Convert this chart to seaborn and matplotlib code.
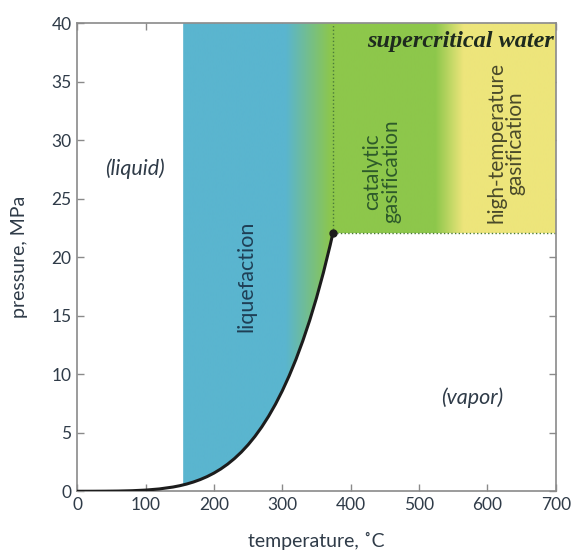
import numpy as np
import matplotlib
matplotlib.use("Agg")
import matplotlib.pyplot as plt
import seaborn as sns
from matplotlib.colors import to_rgb

# saturation curve of water (temperature in C, pressure in MPa)
temps = [0, 20, 40, 60, 80, 100, 120, 140, 150, 160, 170, 180, 190, 200, 210,
         220, 230, 240, 250, 260, 270, 280, 290, 300, 310, 320, 330, 340, 350,
         360, 370, 374]
pressures = [0.0006, 0.0023, 0.0074, 0.0199, 0.0474, 0.101, 0.199, 0.362, 0.476,
             0.618, 0.792, 1.003, 1.255, 1.555, 1.907, 2.319, 2.797, 3.347, 3.976,
             4.692, 5.503, 6.417, 7.442, 8.588, 9.865, 11.28, 12.86, 14.60, 16.53,
             18.67, 21.04, 22.06]

crit_t, crit_p = 374, 22.06
liq_start = 155

# colour stops of the shaded band (temperature, colour)
stop_temps = [155, 305, 372, 524, 565, 700]
stop_colors = ["#5ab5cf", "#5ab5cf", "#8dc74b", "#8dc74b", "#ede57b", "#ede57b"]

text_col = "#2f3b48"


def main():
    sns.set_style("ticks")
    plt.rcParams["font.family"] = ["Lato", "DejaVu Sans"]

    fig = plt.figure(figsize=(5.76, 5.52), dpi=100)
    ax = fig.add_axes([0.134, 0.110, 0.831, 0.848])

    # shaded region: above the curve up to 40 MPa, from 155 C on
    t_curve = np.linspace(liq_start, crit_t, 200)
    p_curve = np.interp(t_curve, temps, pressures)
    poly_t = np.concatenate([t_curve, [700, 700, liq_start]])
    poly_p = np.concatenate([p_curve, [crit_p, 40, 40]])
    patch = ax.fill(poly_t, poly_p, color="none", lw=0)[0]

    grid_t = np.linspace(liq_start, 700, 600)
    rgb = np.array([to_rgb(c) for c in stop_colors])
    img = np.stack([np.interp(grid_t, stop_temps, rgb[:, k]) for k in range(3)], axis=-1)
    im = ax.imshow(img[np.newaxis, :, :], extent=[liq_start, 700, 0, 40],
                   aspect="auto", origin="lower", interpolation="bilinear", zorder=1)
    im.set_clip_path(patch)

    # supercritical boundaries
    ax.plot([crit_t, crit_t], [crit_p, 40], ls=":", color="#4a7a3a", lw=1, zorder=2)
    ax.plot([crit_t, 700], [crit_p, crit_p], ls=":", color="#4a7a3a", lw=1, zorder=2)

    sns.lineplot(x=temps, y=pressures, color="#1c1c1c", lw=2.2, ax=ax, zorder=3)
    ax.plot([crit_t], [crit_p], "o", color="#1c1c1c", ms=5, zorder=4)

    ax.set_xlim(0, 700)
    ax.set_ylim(0, 40)
    ax.set_xticks(range(0, 701, 100))
    ax.set_yticks(range(0, 41, 5))
    ax.tick_params(direction="in", top=True, right=True, length=5, width=1,
                   color="#8a8a8a", labelsize=12.5, labelcolor=text_col, pad=4)
    for s in ax.spines.values():
        s.set_color("#8a8a8a")
        s.set_linewidth(1.2)

    ax.set_xlabel("temperature, ˚C", fontsize=14, color=text_col, labelpad=14)
    ax.set_ylabel("pressure, MPa", fontsize=14, color=text_col, labelpad=17)

    ax.text(85, 27.6, "(liquid)", style="italic", fontsize=15.5, color=text_col,
            ha="center", va="center")
    ax.text(577, 8.0, "(vapor)", style="italic", fontsize=15.5, color=text_col,
            ha="center", va="center")
    ax.text(248, 18.4, "liquefaction", rotation=90, fontsize=15.5, color="#1f3f55",
            ha="center", va="center", zorder=5)
    ax.text(446, 22.9, "catalytic\ngasification", rotation=90, fontsize=15,
            color="#2d5a2a", ha="center", va="bottom", linespacing=0.95, zorder=5)
    ax.text(627, 22.9, "high-temperature\ngasification", rotation=90, fontsize=15,
            color="#4a4a2a", ha="center", va="bottom", linespacing=0.95, zorder=5)
    ax.text(698, 38.4, "supercritical water", family="Liberation Serif",
            style="italic", weight="bold", fontsize=17.5, color="#1e2a1e",
            ha="right", va="center", zorder=5)

    fig.savefig("out.png", dpi=100)
    plt.close(fig)


if __name__ == "__main__":
    main()
